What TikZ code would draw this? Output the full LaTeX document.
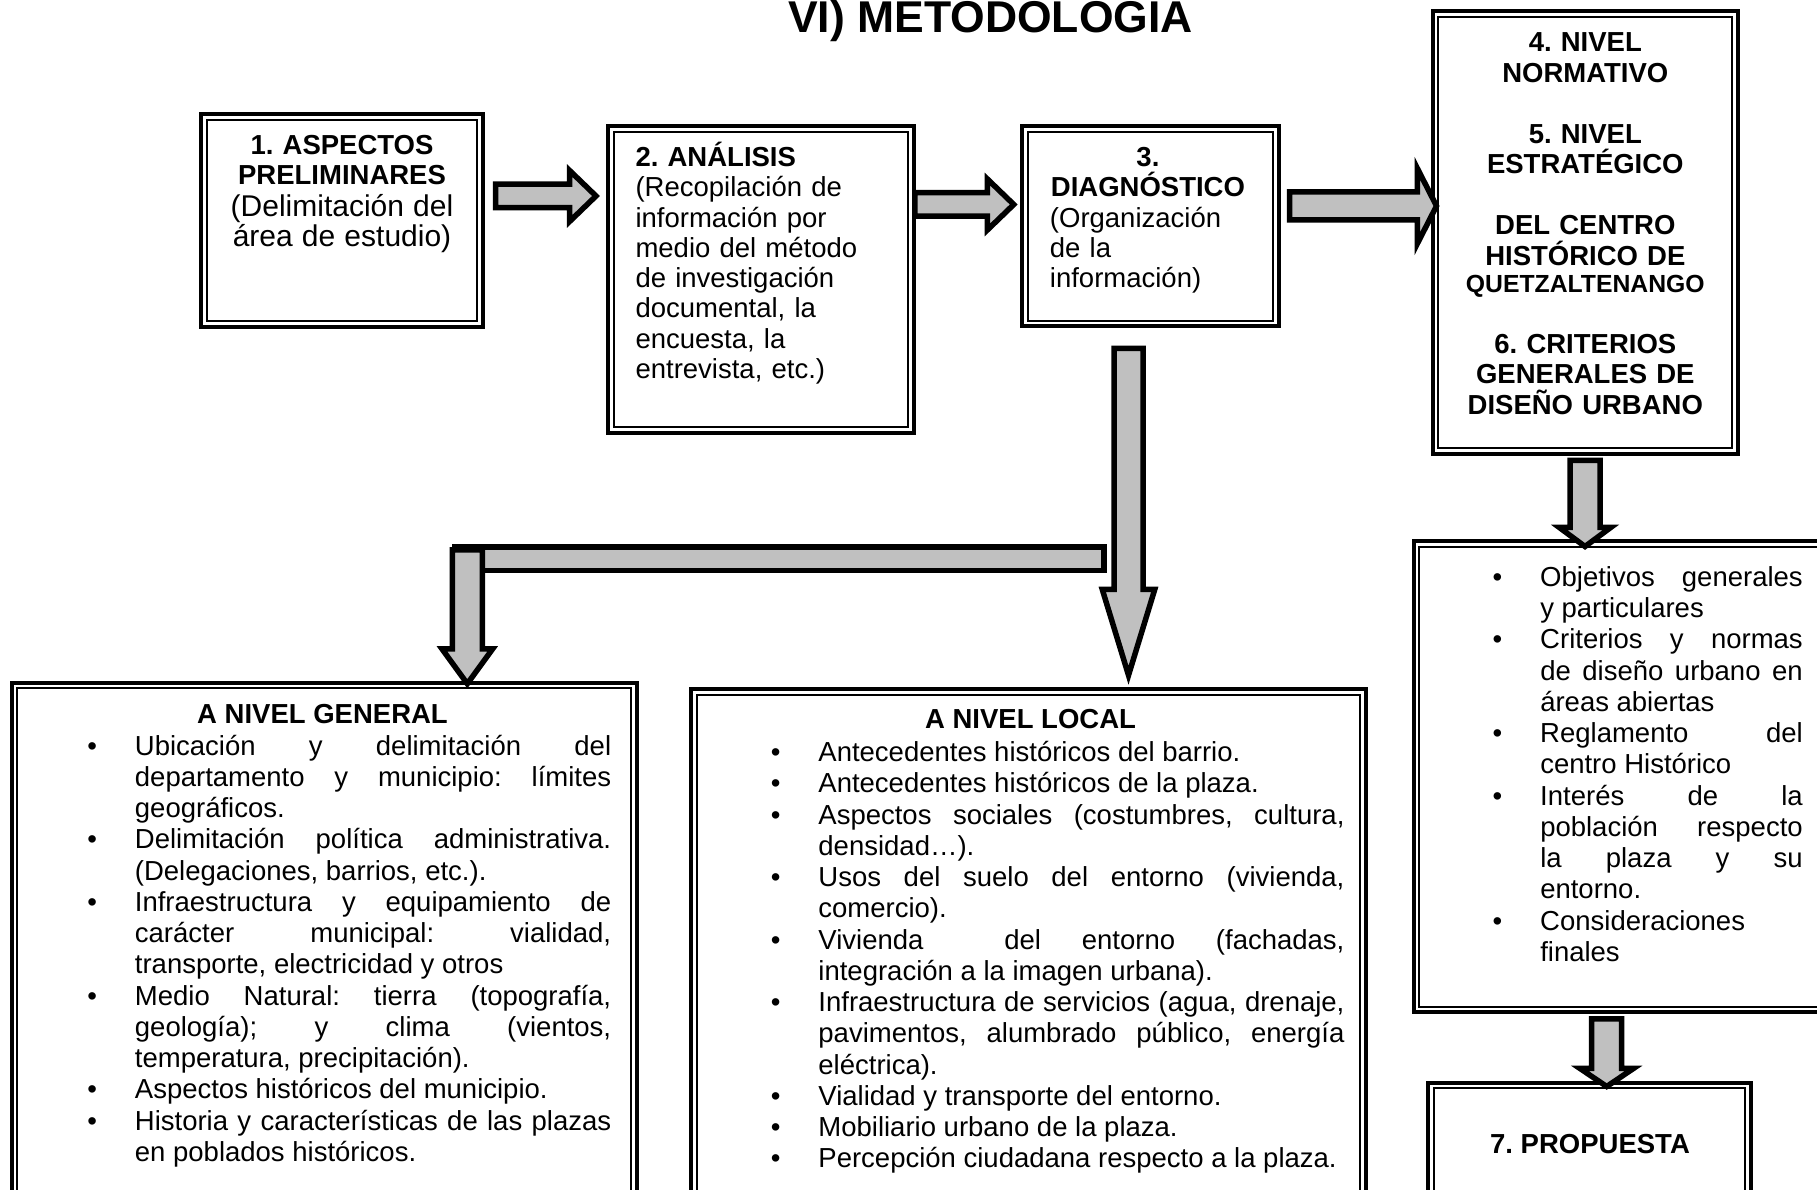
\documentclass[tikz,border=0pt]{standalone}
\usepackage{fontspec}
\setmainfont{Liberation Sans}
\usetikzlibrary{shapes.arrows}

\definecolor{arrowgray}{RGB}{192,192,192}
\tolerance=10000
\hbadness=10000
\hyphenpenalty=10000
\frenchspacing
\newcommand{\bitem}{\noindent\llap{\textbullet\hspace{15.2pt}}}

\tikzset{every picture/.style={line width=0.75pt}}
\tikzset{
  stagebox/.style={draw, line width=0.8pt, inner sep=0pt},
  boxframe/.style={line width=1.6pt},
  txt/.style={inner sep=0pt, font=\fontsize{11}{12.1}\selectfont},
  head/.style={inner sep=0pt, anchor=base, font=\fontsize{11}{12.5}\selectfont\bfseries},
  lst/.style={inner sep=0pt, anchor=base west, align=justify, font=\fontsize{11}{12.5}\selectfont},
  blockarr/.style={single arrow, draw, fill=arrowgray, line width=2.2pt, inner xsep=0pt, anchor=tail},
  downarr/.style={blockarr, shape border rotate=270, inner ysep=0pt},
  blockbar/.style={draw, fill=arrowgray, line width=2.2pt}
}

\begin{document}
\begin{tikzpicture}[x=0.4pt,y=0.4pt,yscale=-1,xscale=1]
	\path[use as bounding box, clip] (0,0) rectangle (1817,1190);

	% Text Node
	\node[inner sep=0pt, anchor=base, font=\fontsize{17.8}{20}\selectfont\bfseries] (title) at (990.5,33) {VI) METODOLOGIA};

	%Shape: Rectangle
	\node[stagebox, minimum width=108.1pt, minimum height=80.4pt] (b1) at (342.2,220.5) {};
	\node[stagebox, minimum width=117.7pt, minimum height=118.2pt] (b2) at (760.8,279.5) {};
	\node[stagebox, minimum width=98.2pt, minimum height=75.6pt] (b3) at (1150.3,226.2) {};
	\node[stagebox, minimum width=117.6pt, minimum height=172.6pt] (b4) at (1585.3,232.5) {};
	\node[stagebox, minimum width=164.2pt, minimum height=184pt] (br) at (1624.7,776.7) {};
	\node[stagebox, minimum width=124.5pt, minimum height=84.6pt] (b7) at (1589.4,1194.2) {};
	\node[stagebox, minimum width=245.6pt, minimum height=244.6pt] (bg) at (324.3,994.2) {};
	\node[stagebox, minimum width=265.4pt, minimum height=242.1pt] (bl) at (1028.5,997.4) {};
	%Shape: outer frames
	\foreach \n in {b1,b2,b3,b4,br,b7,bg,bl}
		\draw[boxframe] ([shift={(-4.7,-4.7)}]\n.north west) rectangle ([shift={(4.7,4.7)}]\n.south east);

	% Text Node
	\node[txt, anchor=base, align=center, text width=104pt, font=\fontsize{11}{12}\selectfont\bfseries] (t1) at (342,155) {1. ASPECTOS\\PRELIMINARES\\[0.8pt]{\mdseries\fontsize{12}{12}\selectfont (Delimitación del\\área de estudio)}};
	% Text Node
	\node[txt, anchor=base west, align=left, text width=112pt] (t2) at (634.6,166.7) {\textbf{2. ANÁLISIS}\\(Recopilación de\\información por\\medio del método\\de investigación\\documental, la\\encuesta, la\\entrevista, etc.)};
	% Text Node
	\node[txt, anchor=base west, align=left, text width=78.4pt] (t3) at (1049,166.7) {\makebox[\linewidth]{\textbf{3.}}\\\makebox[\linewidth]{\textbf{DIAGNÓSTICO}}\\(Organización\\de la\\información)};
	% Text Node
	\node[txt, anchor=base, align=center, text width=112pt, font=\fontsize{11}{12.2}\selectfont\bfseries] (t4) at (1585.3,51.7) {4. NIVEL\\NORMATIVO\\[12.2pt]5. NIVEL\\ESTRATÉGICO\\[12.2pt]DEL CENTRO\\HISTÓRICO DE\\[-1.2pt]{\fontsize{9.9}{11}\selectfont QUETZALTENANGO}\\[12.1pt]6. CRITERIOS\\GENERALES DE\\DISEÑO URBANO};

	% Text Node
	\node[lst, text width=105pt] (lr) at (1539.3,586.4) {\bitem Objetivos generales\linebreak y particulares
		\par\bitem Criterios y normas\linebreak de diseño urbano en\linebreak áreas abiertas
		\par\bitem Reglamento del\linebreak centro Histórico
		\par\bitem Interés de la\linebreak población respecto\linebreak la plaza y su\linebreak entorno.
		\par\bitem Consideraciones\linebreak finales};
	% Text Node
	\node[head] (t7) at (1590,1153.3) {7. PROPUESTA};

	% Text Node
	\node[head] (hg) at (322.5,723.3) {A NIVEL GENERAL};
	\node[lst, text width=190.5pt] (lg) at (134,755) {\bitem Ubicación y delimitación del\linebreak departamento y municipio: límites\linebreak geográficos.
		\par\bitem Delimitación política administrativa.\linebreak (Delegaciones, barrios, etc.).
		\par\bitem Infraestructura y equipamiento de\linebreak carácter municipal: vialidad,\linebreak transporte, electricidad y otros
		\par\bitem Medio Natural: tierra (topografía,\linebreak geología); y clima (vientos,\linebreak temperatura, precipitación).
		\par\bitem Aspectos históricos del municipio.
		\par\bitem Historia y características de las plazas\linebreak en poblados históricos.};

	% Text Node
	\node[head] (hl) at (1030.5,728.3) {A NIVEL LOCAL};
	\node[lst, text width=210.4pt] (ll) at (817.5,761.7) {\bitem Antecedentes históricos del barrio.
		\par\bitem Antecedentes históricos de la plaza.
		\par\bitem Aspectos sociales (costumbres, cultura,\linebreak densidad…).
		\par\bitem Usos del suelo del entorno (vivienda,\linebreak comercio).
		\par\bitem Vivienda\hspace{16pt} del entorno (fachadas,\linebreak integración a la imagen urbana).
		\par\bitem Infraestructura de servicios (agua, drenaje,\linebreak pavimentos, alumbrado público, energía\linebreak eléctrica).
		\par\bitem Vialidad y transporte del entorno.
		\par\bitem Mobiliario urbano de la plaza.
		\par\bitem Percepción ciudadana respecto a la plaza.};

	%Shape: Right Arrow
	\node[blockarr, inner ysep=3.6pt, single arrow head extend=5.5pt, single arrow tip angle=88, minimum height=40.2pt] (a12) at (492.75,196) {};
	\node[blockarr, inner ysep=3.6pt, single arrow head extend=5.5pt, single arrow tip angle=88, minimum height=39.6pt] (a23) at (912,204.5) {};
	\node[blockarr, inner ysep=4.5pt, single arrow head extend=9.5pt, single arrow tip angle=126, minimum height=58.8pt] (a34) at (1286.75,206) {};
	%Shape: Down Arrow
	\node[downarr, inner xsep=4.7pt, single arrow head extend=4.7pt, single arrow tip angle=34, minimum height=130.7pt] (a3l) at (1128.5,345.75) {};
	%Shape: Rectangle
	\draw[blockbar] (455,547.25) rectangle (1103.85,570.55);
	%Shape: Down Arrow
	\node[downarr, inner xsep=4.9pt, single arrow head extend=4.1pt, single arrow tip angle=72, minimum height=53.5pt] (a3g) at (467.3,547.25) {};
	\node[downarr, inner xsep=4.9pt, single arrow head extend=4.3pt, single arrow tip angle=107, minimum height=34.4pt] (a4r) at (1585,457.75) {};
	\node[downarr, inner xsep=4.9pt, single arrow head extend=4.7pt, single arrow tip angle=112, minimum height=27.1pt] (ar7) at (1606.7,1016) {};

\end{tikzpicture}
\end{document}
